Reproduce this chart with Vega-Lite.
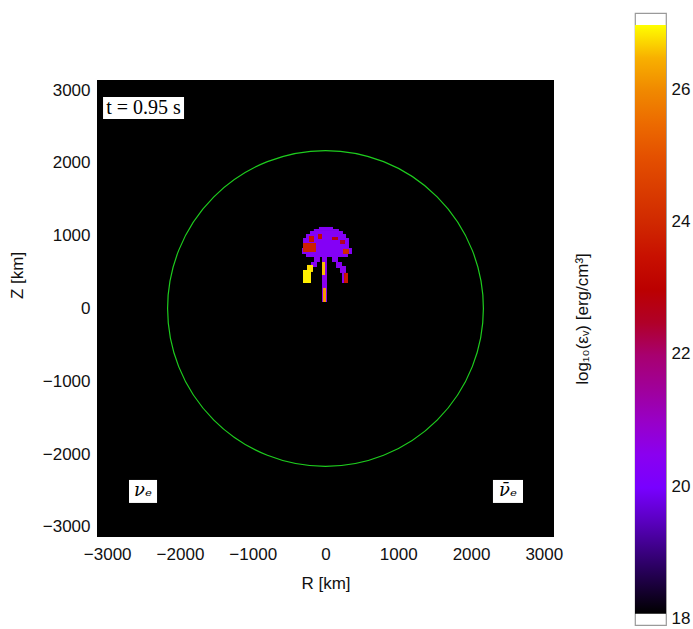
{
  "$schema": "https://vega.github.io/schema/vega-lite/v6.json",
  "background": "white",
  "padding": {"left": 8, "top": 12, "right": 5, "bottom": 2},
  "spacing": 10,
  "config": {
    "font": "Liberation Sans",
    "view": {"stroke": null},
    "axis": {"labelFont": "Liberation Sans", "titleFont": "Liberation Sans", "labelColor": "#111", "titleColor": "#111", "titleFontWeight": "normal", "labelFontSize": 17, "titleFontSize": 17, "grid": false}
  },
  "datasets": {
    "labels": [
      {"label": "t = 0.95 s", "bx": -3057, "bx2": -1944, "by": 2604, "by2": 2906, "tx": -2500, "ty": 2755, "style": "normal"},
      {"label": "νₑ", "bx": -2700, "bx2": -2315, "by": -2672, "by2": -2356, "tx": -2508, "ty": -2514, "style": "italic"},
      {"label": "ν̄ₑ", "bx": 2301, "bx2": 2714, "by": -2672, "by2": -2356, "tx": 2508, "ty": -2514, "style": "italic"}
    ]
  },
  "hconcat": [
    {
      "width": 457,
      "height": 524,
      "layer": [
        {
          "data": {"values": [{"a": -3140, "b": 3140}]},
          "mark": {"type": "rect", "color": "black"},
          "encoding": {
            "x": {"field": "a", "type": "quantitative", "scale": {"domain": [-3140, 3140], "nice": false, "zero": false},
                  "axis": {"values": [-3000, -2000, -1000, 0, 1000, 2000, 3000], "format": "d", "ticks": false, "domain": false, "labelPadding": 9, "title": "R [km]", "titlePadding": 13}},
            "x2": {"field": "b"},
            "y": {"field": "a", "type": "quantitative", "scale": {"domain": [-3140, 4060], "nice": false, "zero": false},
                  "axis": {"values": [-3000, -2000, -1000, 0, 1000, 2000, 3000], "format": "d", "ticks": false, "domain": false, "labelPadding": 7, "title": "Z [km]", "titlePadding": 16}},
            "y2": {"field": "b"}
          }
        },
        {
          "data": {"values": [
            {"x": -90, "x2": 103, "y": 1092, "y2": 1120, "v": 20.3},
            {"x": -160, "x2": 185, "y": 1065, "y2": 1092, "v": 20.3},
            {"x": -213, "x2": 240, "y": 1024, "y2": 1065, "v": 20.3},
            {"x": -268, "x2": 282, "y": 969, "y2": 1024, "v": 20.3},
            {"x": -309, "x2": 323, "y": 831, "y2": 969, "v": 20.3},
            {"x": -323, "x2": 364, "y": 749, "y2": 831, "v": 20.3},
            {"x": -268, "x2": 309, "y": 708, "y2": 749, "v": 20.3},
            {"x": -309, "x2": -131, "y": 776, "y2": 900, "v": 23.8},
            {"x": -227, "x2": -158, "y": 914, "y2": 996, "v": 23.5},
            {"x": -103, "x2": -48, "y": 955, "y2": 1024, "v": 23.3},
            {"x": 89, "x2": 172, "y": 941, "y2": 982, "v": 22.8},
            {"x": 199, "x2": 268, "y": 886, "y2": 941, "v": 22.6},
            {"x": 240, "x2": 323, "y": 749, "y2": 818, "v": 24.0},
            {"x": -48, "x2": 21, "y": 89, "y2": 708, "v": 20.5},
            {"x": -48, "x2": -7, "y": 460, "y2": 639, "v": 26.6},
            {"x": -34, "x2": 7, "y": 89, "y2": 282, "v": 26.2},
            {"x": -158, "x2": -76, "y": 639, "y2": 708, "v": 20.5},
            {"x": -199, "x2": -117, "y": 570, "y2": 639, "v": 20.4},
            {"x": -254, "x2": -172, "y": 502, "y2": 598, "v": 26.8},
            {"x": -309, "x2": -199, "y": 350, "y2": 529, "v": 26.9},
            {"x": 89, "x2": 172, "y": 639, "y2": 708, "v": 20.4},
            {"x": 144, "x2": 227, "y": 556, "y2": 639, "v": 20.4},
            {"x": 199, "x2": 282, "y": 488, "y2": 584, "v": 20.5},
            {"x": 227, "x2": 255, "y": 350, "y2": 488, "v": 20.5},
            {"x": 255, "x2": 309, "y": 350, "y2": 488, "v": 23.6}
          ]},
          "mark": {"type": "rect"},
          "encoding": {
            "x": {"field": "x", "type": "quantitative"},
            "x2": {"field": "x2"},
            "y": {"field": "y", "type": "quantitative"},
            "y2": {"field": "y2"},
            "color": {"field": "v", "type": "quantitative", "legend": null,
                      "scale": {"domain": [18.1, 18.8, 19.5, 20, 20.5, 21, 21.5, 22, 22.5, 23, 23.5, 24, 24.5, 25, 25.5, 26, 26.5, 27],
                                "range": ["#000000", "#2a0060", "#5a00c0", "#7800ff", "#8a00f0", "#9800c8", "#a0009a", "#a80070", "#b00028", "#bb0000", "#c81000", "#d02800", "#da3c00", "#e45000", "#ec6a00", "#f08800", "#f8b000", "#ffff00"]}}
          }
        },
        {
          "data": {"values": [{"R": 0, "Z": 0}]},
          "mark": {"type": "point", "shape": "circle", "filled": false, "size": 99730, "stroke": "#1ecc1e", "strokeWidth": 1.2, "opacity": 1},
          "encoding": {
            "x": {"field": "R", "type": "quantitative"},
            "y": {"field": "Z", "type": "quantitative"}
          }
        },
        {
          "data": {"name": "labels"},
          "mark": {"type": "rect", "color": "white"},
          "encoding": {
            "x": {"field": "bx", "type": "quantitative"},
            "x2": {"field": "bx2"},
            "y": {"field": "by", "type": "quantitative"},
            "y2": {"field": "by2"}
          }
        },
        {
          "data": {"name": "labels"},
          "transform": [{"filter": "datum.style == 'normal'"}],
          "mark": {"type": "text", "font": "Liberation Serif", "fontSize": 20, "color": "black", "align": "center", "baseline": "middle"},
          "encoding": {
            "x": {"field": "tx", "type": "quantitative"},
            "y": {"field": "ty", "type": "quantitative"},
            "text": {"field": "label"}
          }
        },
        {
          "data": {"name": "labels"},
          "transform": [{"filter": "datum.style == 'italic'"}],
          "mark": {"type": "text", "font": "DejaVu Serif", "fontSize": 18, "fontStyle": "italic", "color": "black", "align": "center", "baseline": "middle"},
          "encoding": {
            "x": {"field": "tx", "type": "quantitative"},
            "y": {"field": "ty", "type": "quantitative"},
            "text": {"field": "label"}
          }
        }
      ]
    },
    {
      "width": 31,
      "height": 612,
      "view": {"stroke": "#9a9a9a", "strokeWidth": 1.2},
      "title": {"text": "log₁₀(εᵥ) [erg/cm³]", "orient": "left", "anchor": "middle", "offset": 43, "fontSize": 17, "fontWeight": "normal", "font": "Liberation Sans", "color": "#111"},
      "data": {"values": [{"lo": 18.1, "hi": 27.0}]},
      "mark": {"type": "rect", "color": {"gradient": "linear", "x1": 0, "y1": 1, "x2": 0, "y2": 0, "stops": [
        {"offset": 0, "color": "#000000"},
        {"offset": 0.0787, "color": "#2a0060"},
        {"offset": 0.1573, "color": "#5a00c0"},
        {"offset": 0.2135, "color": "#7800ff"},
        {"offset": 0.2697, "color": "#8a00f0"},
        {"offset": 0.3258, "color": "#9800c8"},
        {"offset": 0.382, "color": "#a0009a"},
        {"offset": 0.4382, "color": "#a80070"},
        {"offset": 0.4944, "color": "#b00028"},
        {"offset": 0.5506, "color": "#bb0000"},
        {"offset": 0.6067, "color": "#c81000"},
        {"offset": 0.6629, "color": "#d02800"},
        {"offset": 0.7191, "color": "#da3c00"},
        {"offset": 0.7753, "color": "#e45000"},
        {"offset": 0.8315, "color": "#ec6a00"},
        {"offset": 0.8876, "color": "#f08800"},
        {"offset": 0.9438, "color": "#f8b000"},
        {"offset": 1, "color": "#ffff00"}
      ]}},
      "encoding": {
        "y": {"field": "lo", "type": "quantitative", "scale": {"domain": [17.93, 27.18], "nice": false, "zero": false},
              "axis": {"orient": "right", "values": [18, 20, 22, 24, 26], "title": null, "ticks": false, "domain": false, "labelPadding": 5, "labelOffset": -2}},
        "y2": {"field": "hi"}
      }
    }
  ]
}
